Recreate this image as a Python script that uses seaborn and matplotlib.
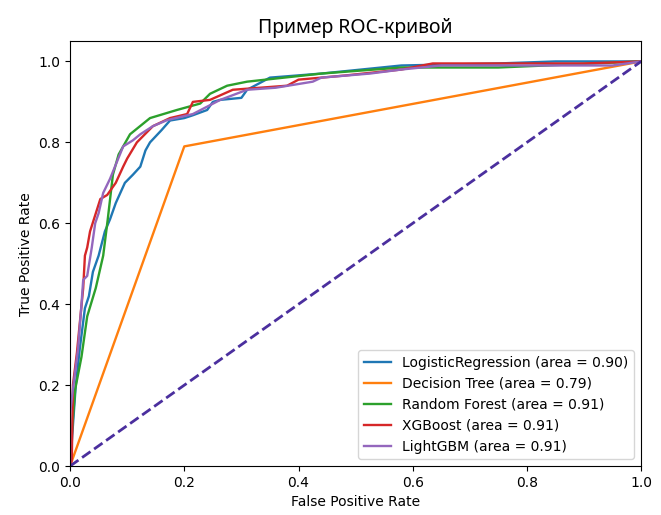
import pandas as pd
import matplotlib
matplotlib.use("Agg")
import matplotlib.pyplot as plt
import seaborn as sns

# ROC points
lr_fpr = [0.0, 0.005, 0.01, 0.017, 0.026, 0.033, 0.04, 0.05, 0.061, 0.07, 0.08, 0.096, 0.11,
          0.123, 0.132, 0.14, 0.16, 0.175, 0.2, 0.215, 0.24, 0.25, 0.263, 0.30, 0.31, 0.35,
          0.44, 0.58, 0.75, 0.85, 1.0]
lr_tpr = [0.0, 0.1, 0.2, 0.29, 0.39, 0.42, 0.48, 0.52, 0.58, 0.61, 0.65, 0.70, 0.72,
          0.74, 0.78, 0.80, 0.83, 0.854, 0.86, 0.867, 0.88, 0.90, 0.905, 0.91, 0.93, 0.96,
          0.97, 0.99, 0.995, 1.0, 1.0]

dt_fpr = [0.0, 0.2, 1.0]
dt_tpr = [0.0, 0.79, 1.0]

rf_fpr = [0.0, 0.004, 0.009, 0.02, 0.03, 0.045, 0.058, 0.066, 0.075, 0.085, 0.105, 0.14,
          0.187, 0.228, 0.245, 0.275, 0.31, 0.44, 0.58, 0.75, 1.0]
rf_tpr = [0.0, 0.1, 0.19, 0.27, 0.37, 0.44, 0.52, 0.61, 0.72, 0.77, 0.82, 0.86,
          0.88, 0.896, 0.92, 0.94, 0.95, 0.97, 0.985, 0.985, 1.0]

xgb_fpr = [0.0, 0.003, 0.005, 0.012, 0.023, 0.026, 0.03, 0.035, 0.044, 0.053, 0.065, 0.08,
           0.093, 0.10, 0.117, 0.145, 0.175, 0.205, 0.215, 0.245, 0.285, 0.38, 0.40, 0.48,
           0.58, 0.635, 0.9, 1.0]
xgb_tpr = [0.0, 0.015, 0.2, 0.28, 0.44, 0.52, 0.54, 0.58, 0.62, 0.66, 0.67, 0.70,
           0.74, 0.76, 0.80, 0.84, 0.86, 0.87, 0.90, 0.905, 0.93, 0.94, 0.955, 0.965,
           0.98, 0.995, 0.995, 1.0]

lgbm_fpr = [0.0, 0.0, 0.005, 0.014, 0.02, 0.023, 0.03, 0.038, 0.044, 0.05, 0.058, 0.07,
            0.093, 0.11, 0.123, 0.145, 0.17, 0.215, 0.263, 0.31, 0.36, 0.425, 0.44, 0.525,
            0.58, 0.65, 0.95, 1.0]
lgbm_tpr = [0.0, 0.13, 0.19, 0.29, 0.40, 0.46, 0.47, 0.54, 0.60, 0.625, 0.675, 0.71,
            0.79, 0.805, 0.82, 0.84, 0.855, 0.87, 0.905, 0.93, 0.935, 0.95, 0.96, 0.97,
            0.98, 0.99, 0.99, 1.0]

models = ["LogisticRegression", "Decision Tree", "Random Forest", "XGBoost", "LightGBM"]
aucs = [0.90, 0.79, 0.91, 0.91, 0.91]
fprs = [lr_fpr, dt_fpr, rf_fpr, xgb_fpr, lgbm_fpr]
tprs = [lr_tpr, dt_tpr, rf_tpr, xgb_tpr, lgbm_tpr]
colors = ["#1f77b4", "#ff7f0e", "#2ca02c", "#d62728", "#9467bd"]

fig = plt.figure(figsize=(6.61, 5.15), dpi=100)
ax = fig.add_axes([0.106, 0.095, 0.864, 0.825])

for name, auc, fpr, tpr, c in zip(models, aucs, fprs, tprs, colors):
    df = pd.DataFrame({"fpr": fpr, "tpr": tpr})
    sns.lineplot(data=df, x="fpr", y="tpr", sort=False, estimator=None, color=c,
                 linewidth=1.7, label=f"{name} (area = {auc:.2f})", ax=ax)

diag = pd.DataFrame({"fpr": [0.0, 1.0], "tpr": [0.0, 1.0]})
sns.lineplot(data=diag, x="fpr", y="tpr", color="#4b2f9e", linewidth=2,
             linestyle="--", ax=ax)

ax.set_xlim(0.0, 1.0)
ax.set_ylim(0.0, 1.05)
ax.set_xlabel("False Positive Rate")
ax.set_ylabel("True Positive Rate")
ax.set_title("Пример ROC-кривой", fontsize=14, family=["Noto Sans", "DejaVu Sans"])
ax.legend(loc="lower right", fontsize=10)

fig.savefig("out.png", dpi=100)
